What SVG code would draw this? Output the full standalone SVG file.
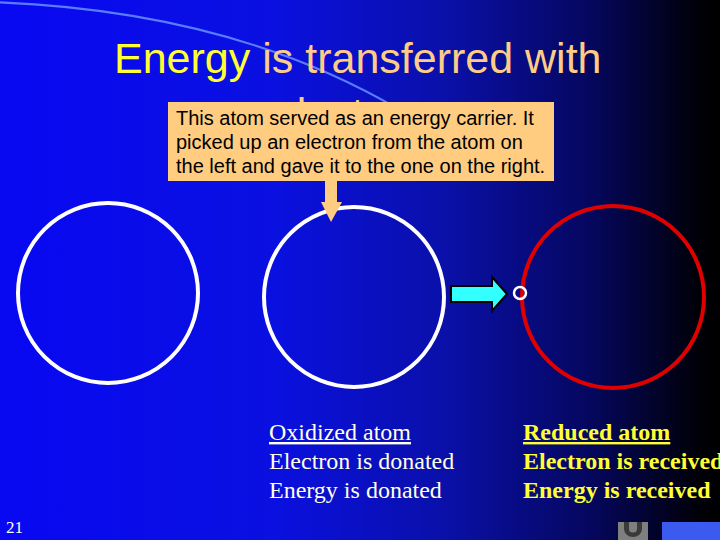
<svg xmlns="http://www.w3.org/2000/svg" width="720" height="540" viewBox="0 0 720 540">
  <defs>
    <linearGradient id="bg" x1="0" y1="0" x2="1" y2="0">
      <stop offset="0" stop-color="#0808F2"/>
      <stop offset="0.38" stop-color="#0A10E0"/>
      <stop offset="0.62" stop-color="#0A10A8"/>
      <stop offset="0.82" stop-color="#05075E"/>
      <stop offset="0.97" stop-color="#000008"/>
      <stop offset="1" stop-color="#000000"/>
    </linearGradient>
    <style>
      .atom { fill: none; stroke-width: 4; }
      .callout { font-family: "Liberation Sans", Arial, sans-serif; font-size: 20px; fill: #000000; }
      .title { font-family: "Liberation Sans", Arial, sans-serif; font-size: 43px; }
      .lbl { font-family: "Liberation Serif", "Times New Roman", serif; font-size: 24px; }
      .ox { fill: #FFFFE6; }
      .red { fill: #FFFF33; font-weight: bold; }
    </style>
  </defs>

  <rect x="0" y="0" width="720" height="540" fill="url(#bg)"/>
  <path d="M -10 2 Q 230 10 400 110" fill="none" stroke="#5A7CFF" stroke-width="2"/>

  <g id="title">
    <text class="title" x="114" y="73"><tspan fill="#FFFF33">Energy</tspan><tspan fill="#FFCC88"> is transferred with</tspan></text>
    <text class="title" x="360" y="128" text-anchor="middle" fill="#FFCC88">electrons</text>
  </g>

  <g id="atom-left">
    <circle class="atom" cx="108" cy="293" r="90" stroke="#FFFFFF"/>
  </g>
  <g id="atom-middle">
    <circle class="atom" cx="354" cy="297" r="90" stroke="#FFFFFF"/>
  </g>
  <g id="atom-right">
    <circle class="atom" cx="613" cy="297" r="91" stroke="#E00000"/>
  </g>
  <g id="electron">
    <circle cx="520" cy="293" r="6" fill="none" stroke="#FFFFFF" stroke-width="2.5"/>
  </g>

  <g id="callout">
    <rect x="168" y="102" width="386" height="79" fill="#FFCC80"/>
    <text class="callout" x="176" y="125">This atom served as an energy carrier. It</text>
    <text class="callout" x="176" y="149">picked up an electron from the atom on</text>
    <text class="callout" x="176" y="173">the left and gave it to the one on the right.</text>
  </g>

  <g id="connectors">
    <polygon points="325,180 337,180 337,202 342,202 331,222 321,202 325,202" fill="#FFCC80"/>
    <polygon points="451,286 492,286 492,277 507,294 492,311 492,302 451,302" fill="#33FFFF" stroke="#000000" stroke-width="2"/>
  </g>

  <g id="label-oxidized">
    <text class="lbl ox" x="269" y="440" text-decoration="underline">Oxidized atom</text>
    <text class="lbl ox" x="269" y="469">Electron is donated</text>
    <text class="lbl ox" x="269" y="498">Energy is donated</text>
  </g>
  <g id="label-reduced">
    <text class="lbl red" x="523" y="440" text-decoration="underline">Reduced atom</text>
    <text class="lbl red" x="523" y="469">Electron is received</text>
    <text class="lbl red" x="523" y="498">Energy is received</text>
  </g>

  <g id="page-number">
    <text x="6" y="533" font-family="Liberation Serif, serif" font-size="17" fill="#FFFFFF">21</text>
  </g>

  <g id="toolbar">
    <rect x="618" y="522" width="30" height="18" fill="#7F7F7F"/>
    <path d="M 624 522 L 624 529 A 9 8 0 0 0 642 529 L 642 522 L 637 522 L 637 529 A 4 3.5 0 0 1 629 529 L 629 522 Z" fill="#3A3A3A"/>
    <rect x="662" y="522" width="58" height="18" fill="#3B5BF0"/>
  </g>
</svg>
